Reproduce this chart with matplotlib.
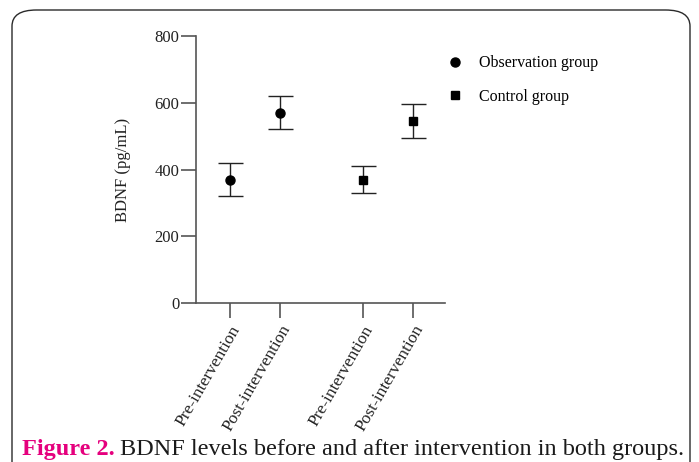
import matplotlib
matplotlib.use("Agg")
import matplotlib.pyplot as plt
from matplotlib.patches import FancyBboxPatch
from matplotlib.lines import Line2D

plt.rcParams['font.family'] = ['Liberation Serif', 'DejaVu Serif']

# Data
tick_labels = ["Pre-intervention", "Post-intervention", "Pre-intervention", "Post-intervention"]
obs_means = [370, 570]
obs_err = [50, 50]
ctrl_means = [370, 545]
ctrl_err = [40, 52]
obs_pos = [0, 1]
ctrl_pos = [2.66, 3.66]
yticks = [0, 200, 400, 600, 800]
legend_labels = ["Observation group", "Control group"]

W, H = 699, 462
fig = plt.figure(figsize=(W / 100, H / 100), dpi=100)

# Frame
frame = FancyBboxPatch((12 / W, -30 / H), (690 - 12) / W, (452 + 30) / H,
                       boxstyle="round,pad=0,rounding_size=0.035",
                       transform=fig.transFigure, fill=False,
                       edgecolor="#2a2a2a", linewidth=1.0)
fig.patches.append(frame)

ax = fig.add_axes([196 / W, 1 - 303 / H, (445 - 196) / W, (303 - 36) / H])
axcol = "#555555"
ax.errorbar(obs_pos, obs_means, yerr=obs_err, fmt='o', color='black',
            ecolor='#222222', elinewidth=1, capsize=9, capthick=1, markersize=6.5)
ax.errorbar(ctrl_pos, ctrl_means, yerr=ctrl_err, fmt='s', color='black',
            ecolor='#222222', elinewidth=1, capsize=9, capthick=1, markersize=6)

ax.set_xlim(-0.68, 4.3)
ax.set_ylim(0, 800)
ax.set_yticks(yticks)
ax.set_xticks(obs_pos + ctrl_pos)
ax.set_xticklabels(tick_labels, rotation=60, ha='right', va='top',
                   rotation_mode='anchor', fontsize=12.5, color='#222222')
ax.tick_params(axis='y', length=11, width=1.2, color=axcol, labelsize=12,
               labelcolor='#222222', pad=1)
ax.tick_params(axis='x', length=11, width=1.2, color=axcol, pad=3)
for s in ['top', 'right']:
    ax.spines[s].set_visible(False)
for s in ['left', 'bottom']:
    ax.spines[s].set_color(axcol)
    ax.spines[s].set_linewidth(1.2)
ax.set_ylabel("BDNF (pg/mL)", fontsize=12, color='#222222', labelpad=17)

# Legend
handles = [Line2D([], [], marker='o', linestyle='none', color='black', markersize=6.5),
           Line2D([], [], marker='s', linestyle='none', color='black', markersize=6)]
fig.legend(handles, legend_labels, loc='upper left',
           bbox_to_anchor=(431 / W, 1 - 41 / H),
           frameon=False, fontsize=11.5, handletextpad=0.9, labelspacing=1.1,
           handlelength=1.2)

# Caption
cap_y = 2 / H
t1 = fig.text(22 / W, cap_y, "Figure 2.", color="#e5007d",
              fontsize=17.5, fontweight='bold', va='bottom', ha='left')
fig.canvas.draw()
bb = t1.get_window_extent()
fig.text((bb.x1 + 5) / W, cap_y,
         "BDNF levels before and after intervention in both groups.",
         color="#1a1a1a", fontsize=17.5, va='bottom', ha='left')

fig.savefig("out.png", dpi=100)
